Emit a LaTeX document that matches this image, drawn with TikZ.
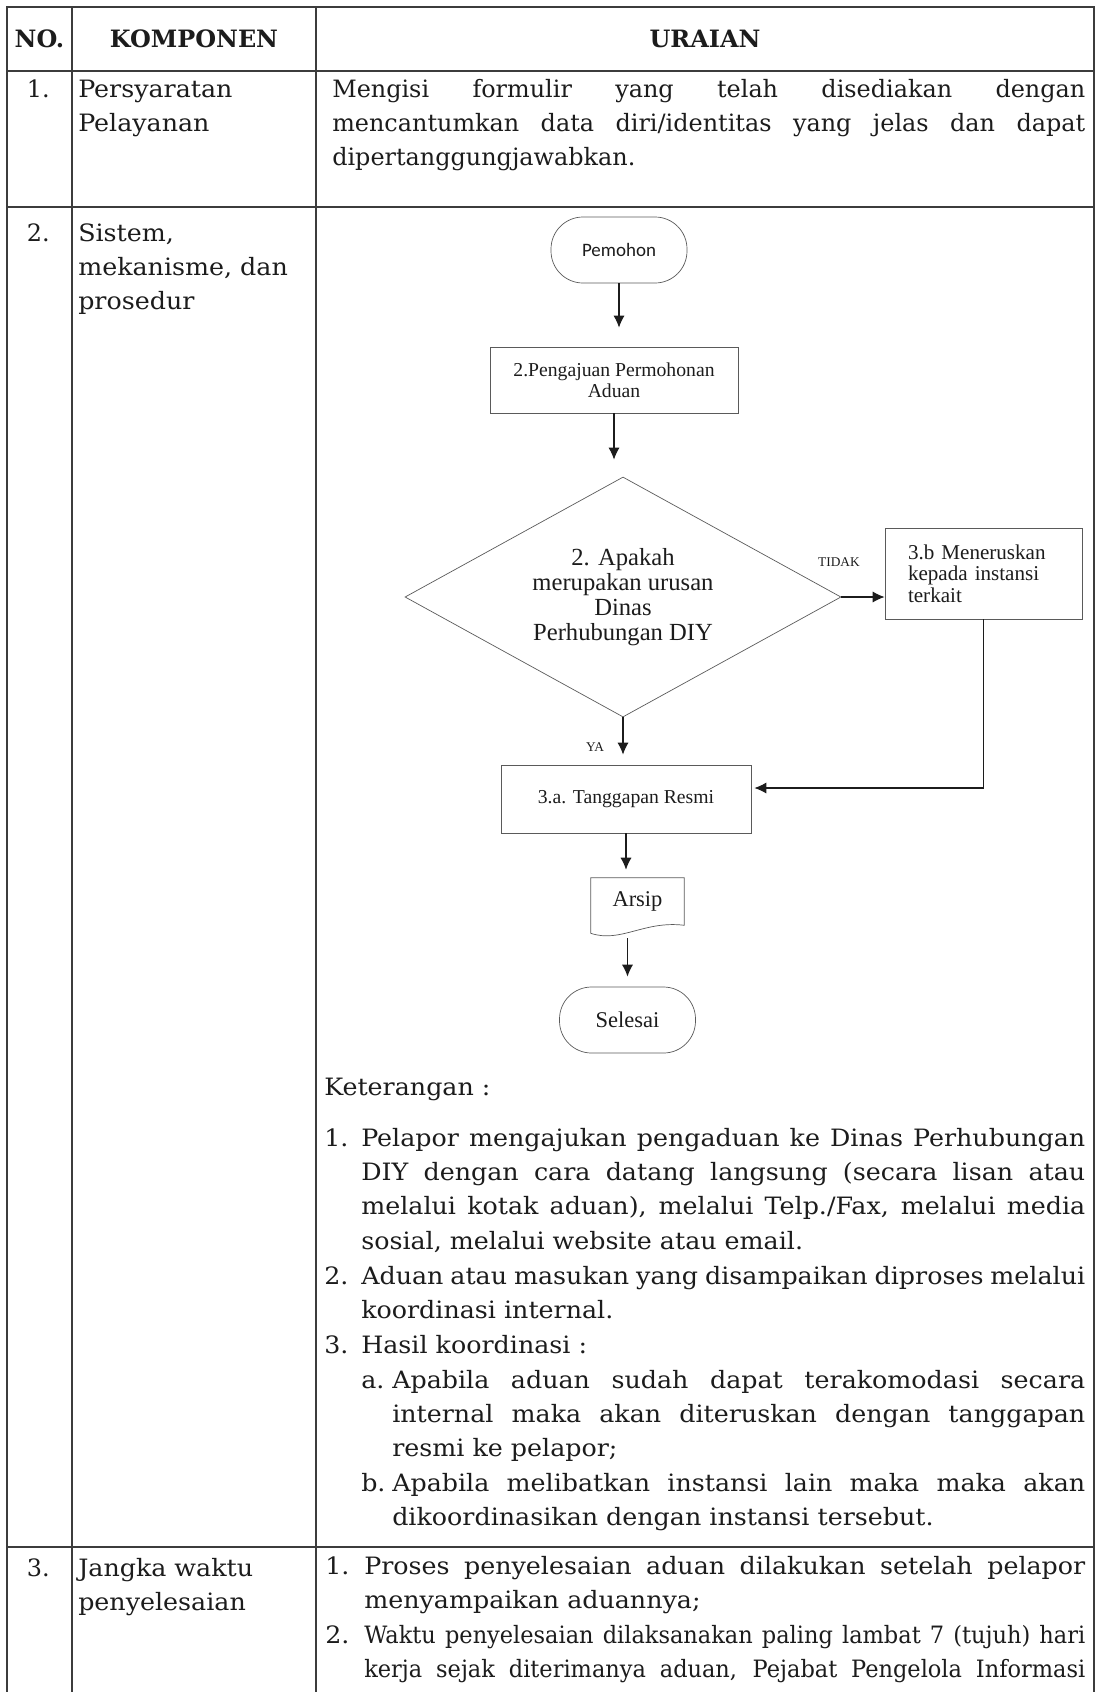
\documentclass[tikz,border=0pt]{standalone}
\usepackage{fontspec}
\setmainfont{DejaVu Serif}
\newfontfamily\listserif{DejaVu Serif}[FakeStretch=1.06]
\newfontfamily\narrowserif{DejaVu Serif}[FakeStretch=0.94]
\newfontfamily\flowfont{Liberation Serif}
\newfontfamily\capsfont{Carlito}
\usetikzlibrary{arrows.meta,positioning,shapes.geometric}
\definecolor{ink}{HTML}{1C1C1C}
\definecolor{rule}{HTML}{3C3C3C}
\definecolor{frame}{HTML}{5A5A5A}
\tolerance=9999
\hbadness=10000
\hyphenpenalty=10000
\newcommand{\bodysize}{\fontsize{17}{24.5}\selectfont}
\tikzset{
  tableline/.style={draw=rule, line width=1pt},
  headcell/.style={font=\bodysize\bfseries, text=ink},
  cell/.style={font=\bodysize, text=ink, inner sep=0pt, anchor=base west},
  listcell/.style={cell, font=\listserif\bodysize},
  numcell/.style={cell, anchor=base east},
  para/.style={cell, text width=#1, align=justify},
  listpara/.style={para=#1, font=\listserif\bodysize},
  leftcol/.style={listcell, text width=58mm, align=left},
  flowbox/.style={draw=frame, line width=0.5pt, text=ink, align=center, inner sep=2pt,
    font=\flowfont\fontsize{14}{15}\selectfont},
  capsule/.style={flowbox, rounded corners=8mm, minimum width=34mm, minimum height=16.5mm},
  decision/.style={flowbox, diamond, aspect=1.8, inner sep=0pt, minimum width=109mm,
    minimum height=60mm, font=\flowfont\fontsize{17.5}{17.6}\selectfont},
  flowlabel/.style={font=\flowfont\fontsize{9.5}{10}\selectfont, text=ink, inner sep=0pt},
  flowarrow/.style={-{Latex[length=3mm,width=2.8mm]}, draw=ink, line width=0.9pt}
}

\begin{document}
\begin{tikzpicture}[x=0.25mm,y=-0.25mm]
  \useasboundingbox (0,0) rectangle (1097,1692);

  % table frame
  \draw[tableline] (7,1692) -- (7,7) -- (1094,7) -- (1094,1692);
  \foreach \y in {71,207,1547} {\draw[tableline] (7,\y) -- (1094,\y);}
  \foreach \x in {72,316} {\draw[tableline] (\x,7) -- (\x,1692);}

  % header
  \node[headcell] (hno) at (39.5,39) {NO.};
  \node[headcell] (hkomponen) at (194,39) {KOMPONEN};
  \node[headcell] (huraian) at (705,39) {URAIAN};

  % row 1
  \node[numcell] (no1) at (50,97) {1.};
  \node[leftcol] (komp1) at (78,97) {Persyaratan\\Pelayanan};
  \node[para=188.25mm] (urai1) at (332,97) {Mengisi formulir yang telah disediakan dengan\linebreak mencantumkan data diri/identitas yang jelas dan dapat\linebreak dipertanggungjawabkan.};

  % row 2
  \node[numcell] (no2) at (50,241) {2.};
  \node[leftcol] (komp2) at (78,241) {Sistem,\\mekanisme, dan\\prosedur};

  % flowchart
  \node[capsule, font=\capsfont\fontsize{13.5}{15}\selectfont] (pemohon) at (619,250) {Pemohon};
  \node[flowbox, minimum width=62mm, minimum height=16.5mm] (pengajuan) at (614,380) {2.Pengajuan Permohonan\\Aduan};
  \node[decision] (apakah) at (623,597) {2. Apakah\\merupakan urusan\\Dinas\\Perhubungan DIY};
  \node[flowbox, align=left, text width=37.75mm, inner xsep=5.75mm, minimum height=22.75mm,
    font=\flowfont\fontsize{15}{15.3}\selectfont] (meneruskan) at (983.5,573.5) {3.b Meneruskan\\kepada instansi\\terkait};
  \node[flowbox, minimum width=62.5mm, minimum height=17mm] (tanggapan) at (626,799) {3.a. Tanggapan Resmi};
  \node[text=ink, inner sep=0pt, minimum width=23.25mm, minimum height=11.75mm,
    font=\flowfont\fontsize{16}{17}\selectfont] (arsip) at (637.5,901.5) {Arsip};
  \draw[draw=frame, line width=0.5pt] (arsip.north west) -- (arsip.north east) -- (arsip.south east)
    .. controls +(-40,-5) and +(30,10) .. ([yshift=-2mm]arsip.south west) -- cycle;
  \node[capsule, font=\flowfont\fontsize{16}{17}\selectfont] (selesai) at (627.5,1020) {Selesai};

  \node[flowlabel] (tidak) at (839,562) {TIDAK};
  \node[flowlabel] (ya) at (595,747) {YA};

  \draw[flowarrow, shorten >=4.75mm] (pemohon) -- (pemohon |- pengajuan.north);
  \draw[flowarrow, shorten >=4.25mm] (pengajuan) -- (pengajuan |- apakah.north);
  \draw[flowarrow] (apakah.east) -- (meneruskan.west |- apakah.east);
  \draw[flowarrow, shorten >=2.5mm] (apakah) -- (apakah |- tanggapan.north);
  \draw[flowarrow, shorten >=0.75mm] (meneruskan.south) |- ([yshift=2.75mm]tanggapan.east);
  \draw[flowarrow, shorten >=2mm] (tanggapan) -- (tanggapan |- arsip.north);
  \draw[flowarrow, shorten <=3.25mm, shorten >=2.5mm] (selesai |- arsip.south) -- (selesai.north);

  % keterangan
  \node[listcell] (ket) at (324,1095) {Keterangan :};
  \node[listcell] (k1) at (324,1146) {1.};
  \node[listpara=181mm] (k1t) at (361,1146) {Pelapor mengajukan pengaduan ke Dinas Perhubungan\linebreak DIY dengan cara datang langsung (secara lisan atau\linebreak melalui kotak aduan), melalui Telp./Fax, melalui media\linebreak sosial, melalui website atau email.};
  \node[listcell] (k2) at (324,1284) {2.};
  \node[listpara=181mm] (k2t) at (361,1284) {Aduan atau masukan yang disampaikan diproses melalui\linebreak koordinasi internal.};
  \node[listcell] (k3) at (324,1353) {3.};
  \node[listcell] (k3t) at (361,1353) {Hasil koordinasi :};
  \node[listcell] (k3a) at (361,1388) {a.};
  \node[listpara=173.25mm] (k3at) at (392,1388) {Apabila aduan sudah dapat terakomodasi secara\linebreak internal maka akan diteruskan dengan tanggapan\linebreak resmi ke pelapor;};
  \node[listcell] (k3b) at (361,1491) {b.};
  \node[listpara=173.25mm] (k3bt) at (392,1491) {Apabila melibatkan instansi lain maka maka akan\linebreak dikoordinasikan dengan instansi tersebut.};

  % row 3
  \node[numcell] (no3) at (50,1576) {3.};
  \node[leftcol] (komp3) at (78,1576) {Jangka waktu\\penyelesaian};
  \node[listcell] (w1) at (325,1574) {1.};
  \node[listpara=180.25mm] (w1t) at (364,1574) {Proses penyelesaian aduan dilakukan setelah pelapor\linebreak menyampaikan aduannya;};
  \node[listcell] (w2) at (325,1643) {2.};
  \node[para=180.25mm, font=\narrowserif\bodysize] (w2t) at (364,1643) {Waktu penyelesaian dilaksanakan paling lambat 7 (tujuh) hari\linebreak kerja sejak diterimanya aduan, Pejabat Pengelola Informasi\parfillskip=0pt\par};
\end{tikzpicture}
\end{document}
